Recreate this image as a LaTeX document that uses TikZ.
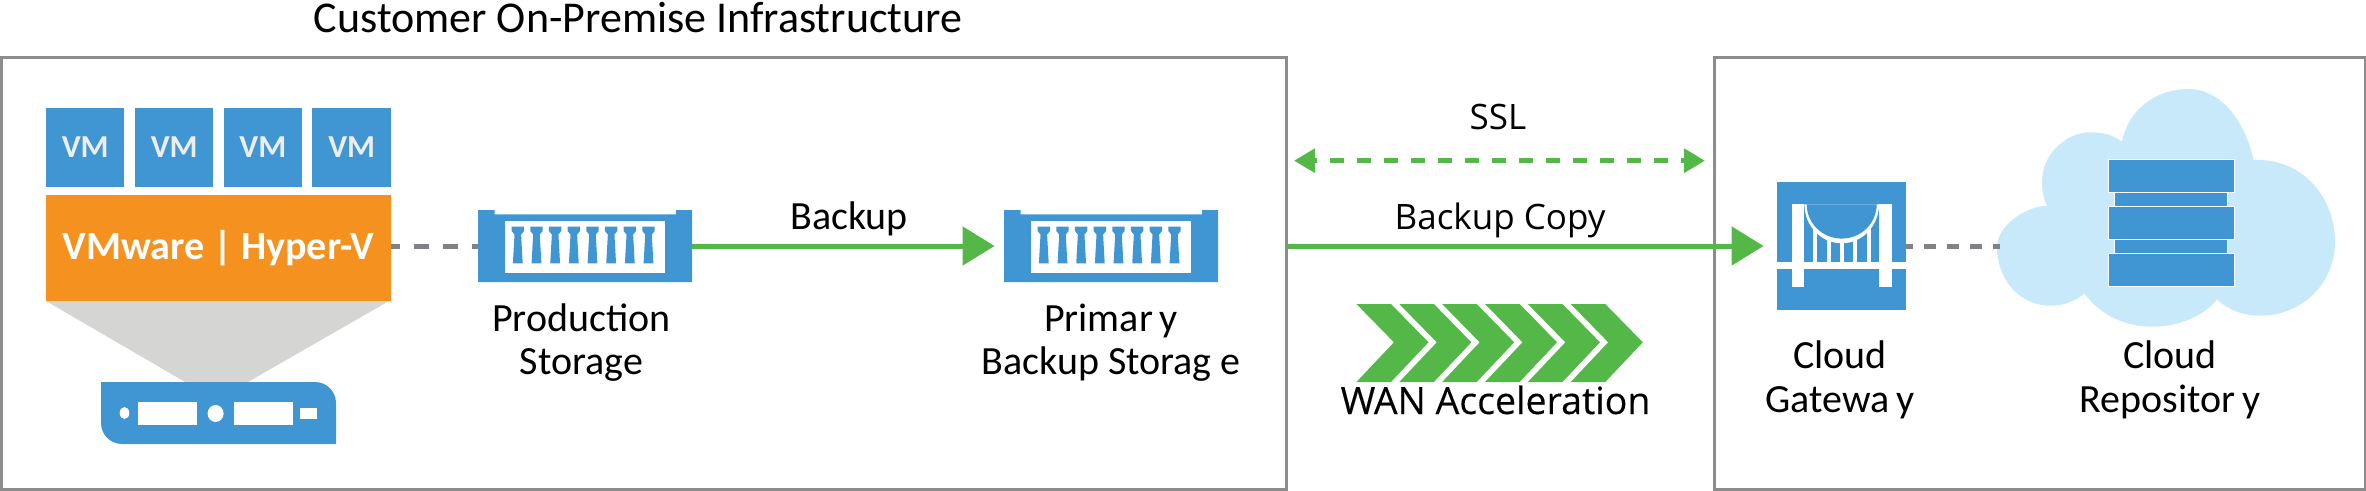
\documentclass[tikz,border=0pt]{standalone}
\usepackage{fontspec}
\setmainfont{Carlito}
\newfontfamily\segfont{Open Sans}
\newfontfamily\wanfont[FakeBold=0.25]{Open Sans}
\usetikzlibrary{arrows.meta,positioning}
\definecolor{vblue}{HTML}{3F96D2}
\definecolor{vorange}{HTML}{F5911E}
\definecolor{vgreen}{HTML}{54B848}
\definecolor{vgray}{HTML}{808285}
\definecolor{vframe}{HTML}{8C8C8F}
\definecolor{vfunnel}{HTML}{D5D5D4}
\definecolor{vcloud}{HTML}{C7E9F9}
\newcommand{\tightgap}[1]{{\spaceskip=.17em\relax #1}}
\tikzset{
  frame/.style={draw=vframe,line width=3pt,fill=none,inner sep=0pt},
  solidbox/.style={fill=vblue,inner sep=0pt,outer sep=0pt},
  vmbox/.style={solidbox,minimum width=78.5pt,minimum height=79pt,text=white!93!black,font=\bfseries\fontsize{32}{32}\selectfont},
  stackwide/.style={fill=vblue,draw=white,line width=1pt,inner sep=0pt,minimum width=125.7pt,minimum height=33pt},
  stacknarrow/.style={fill=vblue,draw=white,line width=1pt,inner sep=0pt,minimum width=112.6pt,minimum height=13.5pt},
  lbl/.style={text=black,inner sep=0pt,anchor=base,font=\fontsize{40}{43.7}\selectfont},
  seglbl/.style={text=black,inner sep=0pt,anchor=base,font=\segfont\fontsize{35}{35}\selectfont},
  flow/.style={draw=vgreen,line width=5pt},
  link/.style={draw=vgray,line width=5pt},
}
\newcommand{\storageicon}[3]{%
  \node[solidbox,minimum width=214pt,minimum height=72pt,fill=none] (#1) at (#2,246) {};
  \begin{scope}[shift={(#3,0)}]
    \fill[vblue] (478,210) -- (494.7,210) -- (494.7,214.3) -- (676,214.3) -- (676,210) -- (692,210) -- (692,282) -- (478,282) -- cycle;
    \fill[white] (505.3,220.7) rectangle (664.7,272.7);
    \foreach \k in {0,...,7}{
      \fill[vblue,shift={({517.8+18.67*\k},0)}] (-6.2,226.7) -- (6.2,226.7) -- (6.2,231) -- (3.3,234.5) -- (4.9,263.3) -- (-4.9,263.3) -- (-3.3,234.5) -- (-6.2,231) -- cycle;
    }
  \end{scope}
}
\begin{document}
\begin{tikzpicture}[x=1pt,y=-1pt]
\useasboundingbox (0,0) rectangle (2366,490);
% frames
\node[frame,minimum width=1285pt,minimum height=432pt] (onprem) at (643.5,273) {};
\node[frame,minimum width=651pt,minimum height=432pt] (cloudbox) at (2039.5,273) {};
\node[lbl,font=\fontsize{44}{44}\selectfont] (title) at (638,32) {Customer On-Premise Infrastructure};
% VMs
\node[vmbox] (vm1) at (85.2,147.5) {VM};
\node[vmbox] (vm2) at (174.2,147.5) {VM};
\node[vmbox] (vm3) at (262.9,147.5) {VM};
\node[vmbox] (vm4) at (351.7,147.5) {VM};
\node[fill=vorange,inner sep=0pt,minimum width=345pt,minimum height=106pt,text=white,font=\bfseries\fontsize{40}{40}\selectfont] (hyper) at (218.5,248) {VMware | Hyper-V};
% funnel + server
\fill[vfunnel] (46,301) -- (389,301) -- (248,382) -- (185,382) -- cycle;
\node[inner sep=0pt,minimum width=235pt,minimum height=62pt] (server) at (218.5,413) {};
\fill[vblue] (101,382) -- (315,382) arc[start angle=-90,end angle=0,radius=21] -- (336,444) -- (122,444) arc[start angle=90,end angle=180,radius=21] -- cycle;
\fill[white] (124.5,413) ellipse[x radius=4.8,y radius=6];
\fill[white] (138,402) rectangle (197,425);
\fill[white] (215.6,413.5) ellipse[x radius=8,y radius=8.5];
\fill[white] (234,402) rectangle (293,425);
\fill[white] (300,408) rectangle (317,419);
% storages
\storageicon{prod}{585}{0}
\storageicon{prim}{1111}{526}
\node[lbl,align=center] (prodlbl) at (581.5,374.7) {Production\\Storage};
\node[lbl,align=center] (primlbl) at (1111,374.7) {\tightgap{Primar y}\\Backup Storag e};
% connectors
\draw[link,dash pattern=on 15pt off 14pt,dash phase=6.5pt] (hyper.east |- prod.west) -- (prod.west);
\draw[flow,-{Triangle[length=32pt,width=38pt]},shorten >=9.4pt] (prod.east) -- (prim.west);
\node[lbl] (backup) at (849,229) {Backup};
% gateway
\node[solidbox,minimum width=128.4pt,minimum height=128.3pt] (gw) at (1841.5,245.85) {};
\fill[white] (1813.3,226) rectangle (1817.3,262);
\fill[white] (1826.7,226) rectangle (1830.7,262);
\fill[white] (1840,226) rectangle (1844,262);
\fill[white] (1853.3,226) rectangle (1857.3,262);
\fill[white] (1866.7,226) rectangle (1870.7,262);
\fill[white] (1804.4,204.3) arc[start angle=180,end angle=0,x radius=37.3,y radius=39] -- cycle;
\fill[vblue] (1806.7,204.3) arc[start angle=180,end angle=0,x radius=35,y radius=34.3] -- cycle;
\fill[white] (1791.7,204.3) rectangle (1804.3,287.3);
\fill[white] (1879.3,204.3) rectangle (1892,287.3);
\fill[white] (1777.3,261.7) rectangle (1905.7,269);
\node[lbl,align=center] (gwlbl) at (1840,412) {Cloud\\\tightgap{Gatewa y}};
% cloud
\fill[vcloud] (2121.8,141.7) .. controls (2130,105) and (2160,89) .. (2188.5,89)
  .. controls (2220,89) and (2245,120) .. (2253.5,160)
  .. controls (2305,158) and (2335,200) .. (2335,241.7)
  .. controls (2335,285) and (2300,315.7) .. (2260.7,315.7)
  .. controls (2243,315.7) and (2228,310) .. (2217,299.3)
  .. controls (2205,315) and (2180,326.7) .. (2152.4,326.7)
  .. controls (2125,326.7) and (2100,315) .. (2084.4,293.3)
  .. controls (2077,300) and (2065,305.7) .. (2050.5,305.7)
  .. controls (2020,305.7) and (1997,280) .. (1997,246.7)
  .. controls (1997,228) and (2022,207) .. (2047,205.7)
  .. controls (2043,197) and (2042,190) .. (2042,181.7)
  .. controls (2042,155) and (2065,132.3) .. (2090.8,132.3)
  .. controls (2103,132.3) and (2113,135) .. (2121.8,141.7) -- cycle;
\coordinate (cloudedge) at (1999.5,246.7);
\node[stackwide] (s1) at (2171.5,175.5) {};
\node[stacknarrow] (n1) at (2170.9,199.3) {};
\node[stackwide] (s2) at (2171.5,223) {};
\node[stacknarrow] (n2) at (2170.9,246.7) {};
\node[stackwide] (s3) at (2171.5,270.3) {};
\node[lbl,align=center] (repolbl) at (2170,412) {Cloud\\\tightgap{Repositor y}};
\draw[link,dash pattern=on 11.5pt off 11.5pt,dash phase=4.7pt] (gw.east |- cloudedge) -- (cloudedge);
% WAN side
\coordinate (sslL) at (1294,160.7);
\coordinate (sslR) at (1705,160.7);
\draw[flow,dash pattern=on 13.6pt off 13.4pt,dash phase=10.6pt,{Triangle[length=21pt,width=23.4pt]}-{Triangle[length=21pt,width=23.4pt]}] (sslL) -- (sslR);
\node[seglbl] (ssl) at (1498,129.3) {SSL};
\draw[flow,-{Triangle[length=32pt,width=38pt]},shorten >=13.7pt] (onprem.east |- prod.east) -- (gw.west |- prod.east);
\node[seglbl] (bcopy) at (1500,229) {Backup Copy};
\foreach \k in {0,...,5}{
  \fill[vgreen,shift={({1356.4+42.86*\k},0)}] (0,304) -- (34.6,304) -- (72.1,342.3) -- (34.6,382) -- (0,382) -- (37.5,342.3) -- cycle;
}
\node[seglbl,font=\wanfont\fontsize{37.5}{37.5}\selectfont] (wan) at (1495.5,414) {WAN Acceleration};
\end{tikzpicture}
\end{document}
